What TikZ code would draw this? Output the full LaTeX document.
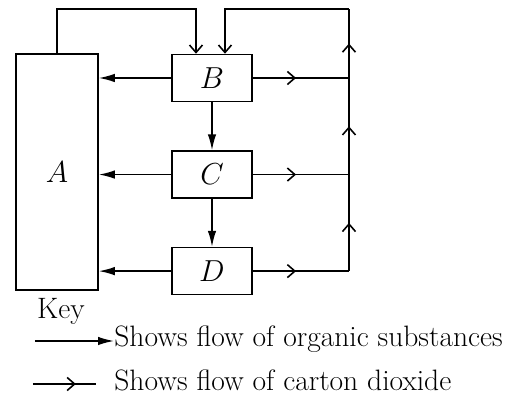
\documentclass[tikz,border=0pt]{standalone}
\usepackage{amsmath,amssymb}
\usepackage{tikz}
\usetikzlibrary{arrows.meta,positioning,calc,decorations.markings}
\tikzset{
  box/.style={draw, line width=0.9pt, minimum width=1.6cm, minimum height=0.94cm, inner sep=0pt},
  bigbox/.style={box, minimum width=1.64cm, minimum height=4.72cm},
  keytext/.style={inner sep=0pt, font=\fontsize{16.8}{20}\selectfont},
  organic/.style={-{Latex[length=3.2mm,width=1.7mm]}, line width=0.9pt},
  co2/.style={-{Straight Barb[length=1.5mm,width=2.6mm]}, line width=0.9pt},
  co2mid/.style={line width=0.9pt, postaction={decorate},
    decoration={markings, mark=at position #1 with {\arrow{Straight Barb[length=1.5mm,width=2.6mm]}}}},
  co2mid/.default=0.5
}

\begin{document}
\begin{tikzpicture}[x=0.02cm, y=-0.02cm, node distance=0.96cm, font=\fontsize{16.8}{20}\selectfont]
\useasboundingbox (0,0) rectangle (512,398);
\node[bigbox] (A) at (57,172) {$A$};
\node[box] (B) at (212,78) {$B$};
\node[box, below=of B] (C) {$C$};
\node[box, below=of C] (D) {$D$};
\coordinate (top) at (349,9);
\coordinate (bin1) at ([xshift=-0.32cm]B.north);
\coordinate (bin2) at ([xshift=0.26cm]B.north);
% organic substances
\draw[organic] (B) -- (B -| A.east);
\draw[organic] (C) -- (C -| A.east);
\draw[organic] (D) -- (D -| A.east);
\draw[organic] (B) -- (C);
\draw[organic] (C) -- (D);
% carbon dioxide
\draw[co2mid=0.45] (B.east) -- (B.east -| top);
\draw[co2mid=0.45] (C.east) -- (C.east -| top);
\draw[co2mid=0.45] (D.east) -- (D.east -| top);
\draw[co2mid] (D.east -| top) -- (C.east -| top);
\draw[co2mid] (C.east -| top) -- (B.east -| top);
\draw[co2mid] (B.east -| top) -- (top);
\draw[co2] (top) -| (bin2);
\draw[co2] (A.north) -- (A.north |- top) -| (bin1);
% key
\node[keytext, anchor=base] (key) at (61,319) {Key};
\coordinate (k1) at (35,341);
\node[keytext, anchor=base west] (txt1) at (114,347) {Shows flow of organic substances};
\draw[organic] (k1) -- (k1 -| txt1.west);
\coordinate (k2) at (33,384);
\coordinate (k2end) at (96,384);
\node[keytext, anchor=base west] (txt2) at (114,391) {Shows flow of carton dioxide};
\draw[co2mid=0.68] (k2) -- (k2end);
\end{tikzpicture}
\end{document}
